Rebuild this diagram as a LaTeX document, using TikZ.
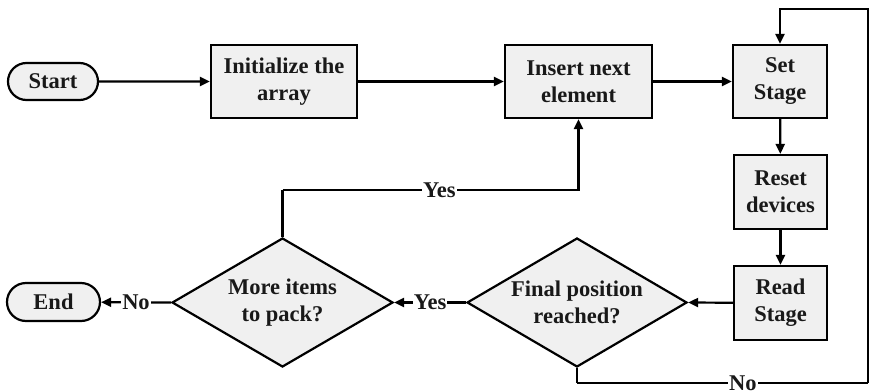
\documentclass[tikz,border=0pt]{standalone}
\usepackage{fontspec}
\setmainfont{Liberation Serif}
\usetikzlibrary{shapes.geometric,shapes.misc,arrows.meta}
\begin{document}
\begin{tikzpicture}[x=1pt,y=-1pt,
  every node/.style={font=\bfseries\fontsize{22.5}{27}\selectfont, text=black!90},
  stepbox/.style={draw, line width=2.2pt, fill=black!6, align=center, inner sep=0pt},
  terminal/.style={draw, line width=2.2pt, fill=black!6, rounded rectangle, inner sep=0pt},
  decision/.style={draw, line width=2.2pt, fill=black!6, diamond, aspect=1.7, align=center, inner sep=0pt},
  flow/.style={line width=2.2pt, -{Triangle[length=10pt,width=9pt]}},
  link/.style={line width=2.2pt},
  tag/.style={fill=white, inner sep=1pt}]
\useasboundingbox (0,0) rectangle (870,391);

% process boxes
\node[terminal, minimum width=90, minimum height=37] (start) at (53,81.5) {Start};
\node[stepbox, minimum width=146, minimum height=73] (init) at (284,81.5) {Initialize the\\array};
\node[stepbox, minimum width=147, minimum height=73] (insert) at (578.5,81.5) {Insert next\\element};
\node[stepbox, minimum width=94, minimum height=73] (set) at (780,81.5) {Set\\Stage};
\node[stepbox, minimum width=93, minimum height=74] (reset) at (780.5,192) {Reset\\devices};
\node[stepbox, minimum width=93, minimum height=74] (read) at (780.5,303) {Read\\Stage};

% decisions
\node[decision, minimum width=220, minimum height=129] (final) at (577,302.5) {Final position\\reached?};
\node[decision, minimum width=221, minimum height=129] (more) at (282.5,302.5) {More items\\to pack?};
\node[terminal, minimum width=93, minimum height=38] (end) at (53.5,302) {End};

% loop corner points
\coordinate (nobot) at (577,383);
\coordinate (noright) at (868,383);
\coordinate (topright) at (868,9);
\coordinate (topset) at (780,9);
\coordinate (yesleft) at (282.5,190);
\coordinate (yesright) at (578.5,190);

% main flow
\draw[flow] (start) -- (init);
\draw[flow] (init) -- (insert);
\draw[flow] (insert) -- (set);
\draw[flow] (set) -- (reset);
\draw[flow] (reset) -- (read);
\draw[flow] (read) -- (final.east);

% decision outcomes
\draw[flow] (final.west) -- node[tag] {Yes} (more.east);
\draw[flow] (more.west) -- node[tag] {No} (end);
\draw[link] (more.north) -- (yesleft);
\draw[flow] (yesleft) -- node[tag, pos=0.53] {Yes} (yesright) -- (insert.south);
\draw[link] (final.south) -- (nobot);
\draw[link] (nobot) -- node[tag, pos=0.57] {No} (noright);
\draw[flow] (noright) -- (topright) -- (topset) -- (set.north);
\end{tikzpicture}
\end{document}
